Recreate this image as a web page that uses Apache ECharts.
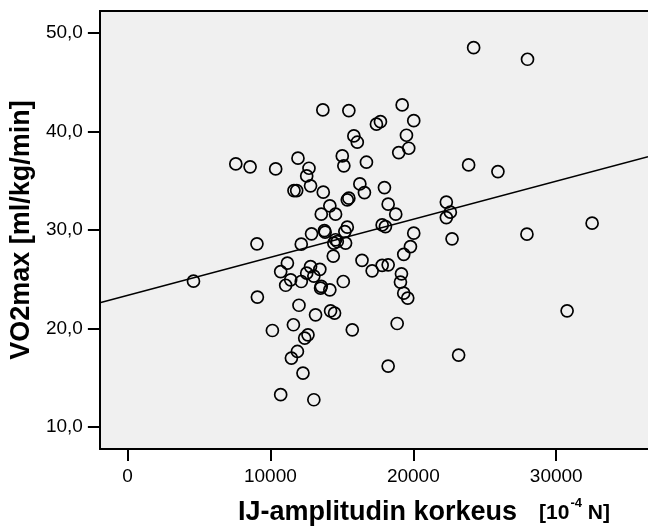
<!DOCTYPE html>
<html>
<head>
<meta charset="utf-8">
<script src="https://cdn.jsdelivr.net/npm/echarts@6/dist/echarts.min.js"></script>
<style>
html,body{margin:0;padding:0;background:#fff;}
#chart{width:648px;height:526px;}
</style>
</head>
<body>
<div id="chart"></div>
<script>
// IJ-amplitude (10^-4 N) for each subject
const ijAmplitude = [4620,7580,8580,10370,11930,12700,12540,12810,11650,11840,13700,13670,15490,19220,20030,17420,17700,15840,16080,19520,18980,19680,15030,15140,16720,23870,25920,24220,27990,16260,16580,17980,15380,15490,14160,13560,14560,18240,18770,22310,22590,22310,17820,18050,15380,15210,13780,13830,12880,12160,14560,14680,14440,15260,20030,19800,19330,22710,27950,32510,9060,14400,16410,17120,17820,18240,19170,19100,19330,19610,11190,10720,12810,12540,13460,13040,11420,11070,12160,13560,13510,14160,15100,9090,12000,13160,14210,14490,15730,18870,10140,11610,12630,12400,11890,11470,12280,10720,13040,23170,18240,30760];
// VO2max (ml/kg/min) for each subject
const vo2max = [24.81,36.71,36.41,36.20,37.29,36.27,35.49,34.48,34.00,34.00,33.84,42.19,42.12,42.70,41.10,40.74,41.00,39.55,38.91,39.62,37.86,38.30,37.52,36.51,36.88,36.61,35.93,48.51,47.33,34.68,33.80,34.31,33.06,33.23,32.45,31.61,31.61,32.62,31.61,32.83,31.81,31.26,30.52,30.35,30.29,29.84,29.94,29.78,29.61,28.56,29.01,28.83,28.67,28.67,29.68,28.32,27.53,29.10,29.58,30.69,28.60,27.35,26.92,25.86,26.41,26.46,25.55,24.71,23.59,23.09,26.64,25.78,26.29,25.62,26.01,25.32,24.94,24.39,24.77,24.28,24.10,23.93,24.77,23.19,22.36,21.39,21.80,21.57,19.87,20.51,19.80,20.38,19.36,19.03,17.67,17.00,15.48,13.28,12.77,17.30,16.19,21.80];
// Fit line end points
const fitX = [-1930, 36420];
const fitY = [22.61, 37.45];
// Tick values
const xTicks = [0, 10000, 20000, 30000];
const yTicks = [10, 20, 30, 40, 50];
const xRange = [-1930, 36420];
const yRange = [7.77, 52.23];

const points = ijAmplitude.map((x, i) => [x, vo2max[i]]);
const fitLine = fitX.map((x, i) => [x, fitY[i]]);

const chart = echarts.init(document.getElementById('chart'), null, {renderer: 'canvas'});
const font = "'Liberation Sans', Arial, Helvetica, sans-serif";
chart.setOption({
  animation: false,
  backgroundColor: '#ffffff',
  textStyle: {fontFamily: font},
  grid: {
    left: 99, top: 11, right: 0, bottom: 77,
    show: true, backgroundColor: '#f0f0f0', borderWidth: 0
  },
  title: {
    left: 238, top: 497, padding: 0,
    text: '{a|IJ-amplitudin korkeus}{b|[10}{s|-4}{c| N]}',
    textStyle: {
      rich: {
        a: {fontFamily: font, fontWeight: 'bold', fontSize: 27, color: '#000', lineHeight: 32},
        b: {fontFamily: font, fontWeight: 'bold', fontSize: 21, color: '#000', padding: [0,0,0,22], lineHeight: 32},
        s: {fontFamily: font, fontWeight: 'bold', fontSize: 13, color: '#000', verticalAlign: 'top', lineHeight: 32, padding: [0,0,9,1]},
        c: {fontFamily: font, fontWeight: 'bold', fontSize: 21, color: '#000', lineHeight: 32}
      }
    }
  },
  xAxis: [{
    type: 'value', min: xRange[0], max: xRange[1], position: 'bottom',
    axisLine: {show: true, onZero: false, lineStyle: {color: '#000', width: 2}},
    axisTick: {show: true, length: 12, lineStyle: {color: '#000', width: 2}, customValues: xTicks},
    axisLabel: {show: true, margin: 18, fontSize: 19, color: '#000', fontFamily: font, customValues: xTicks,
      formatter: v => String(v)},
    splitLine: {show: false}
  }, {
    type: 'value', min: xRange[0], max: xRange[1], position: 'top',
    axisLine: {show: true, onZero: false, lineStyle: {color: '#000', width: 2}},
    axisTick: {show: false}, axisLabel: {show: false}, splitLine: {show: false}
  }],
  yAxis: {
    type: 'value', min: yRange[0], max: yRange[1],
    name: 'VO2max [ml/kg/min]', nameLocation: 'middle', nameGap: 54,
    nameTextStyle: {fontFamily: font, fontWeight: 'bold', fontSize: 27, color: '#000'},
    axisLine: {show: true, onZero: false, lineStyle: {color: '#000', width: 2}},
    axisTick: {show: true, length: 12, lineStyle: {color: '#000', width: 2}, customValues: yTicks},
    axisLabel: {show: true, margin: 17, fontSize: 19, color: '#000', fontFamily: font, customValues: yTicks,
      formatter: v => v.toFixed(1).replace('.', ',')},
    splitLine: {show: false}
  },
  series: [
    {
      type: 'line', data: fitLine, showSymbol: false, symbol: 'none', silent: true,
      lineStyle: {color: '#000', width: 1.5}, z: 2
    },
    {
      type: 'scatter', data: points, symbol: 'circle', symbolSize: 12, silent: true,
      itemStyle: {color: 'rgba(0,0,0,0)', borderColor: '#000', borderWidth: 1.7, opacity: 1}, z: 3
    }
  ]
});
</script>
</body>
</html>
